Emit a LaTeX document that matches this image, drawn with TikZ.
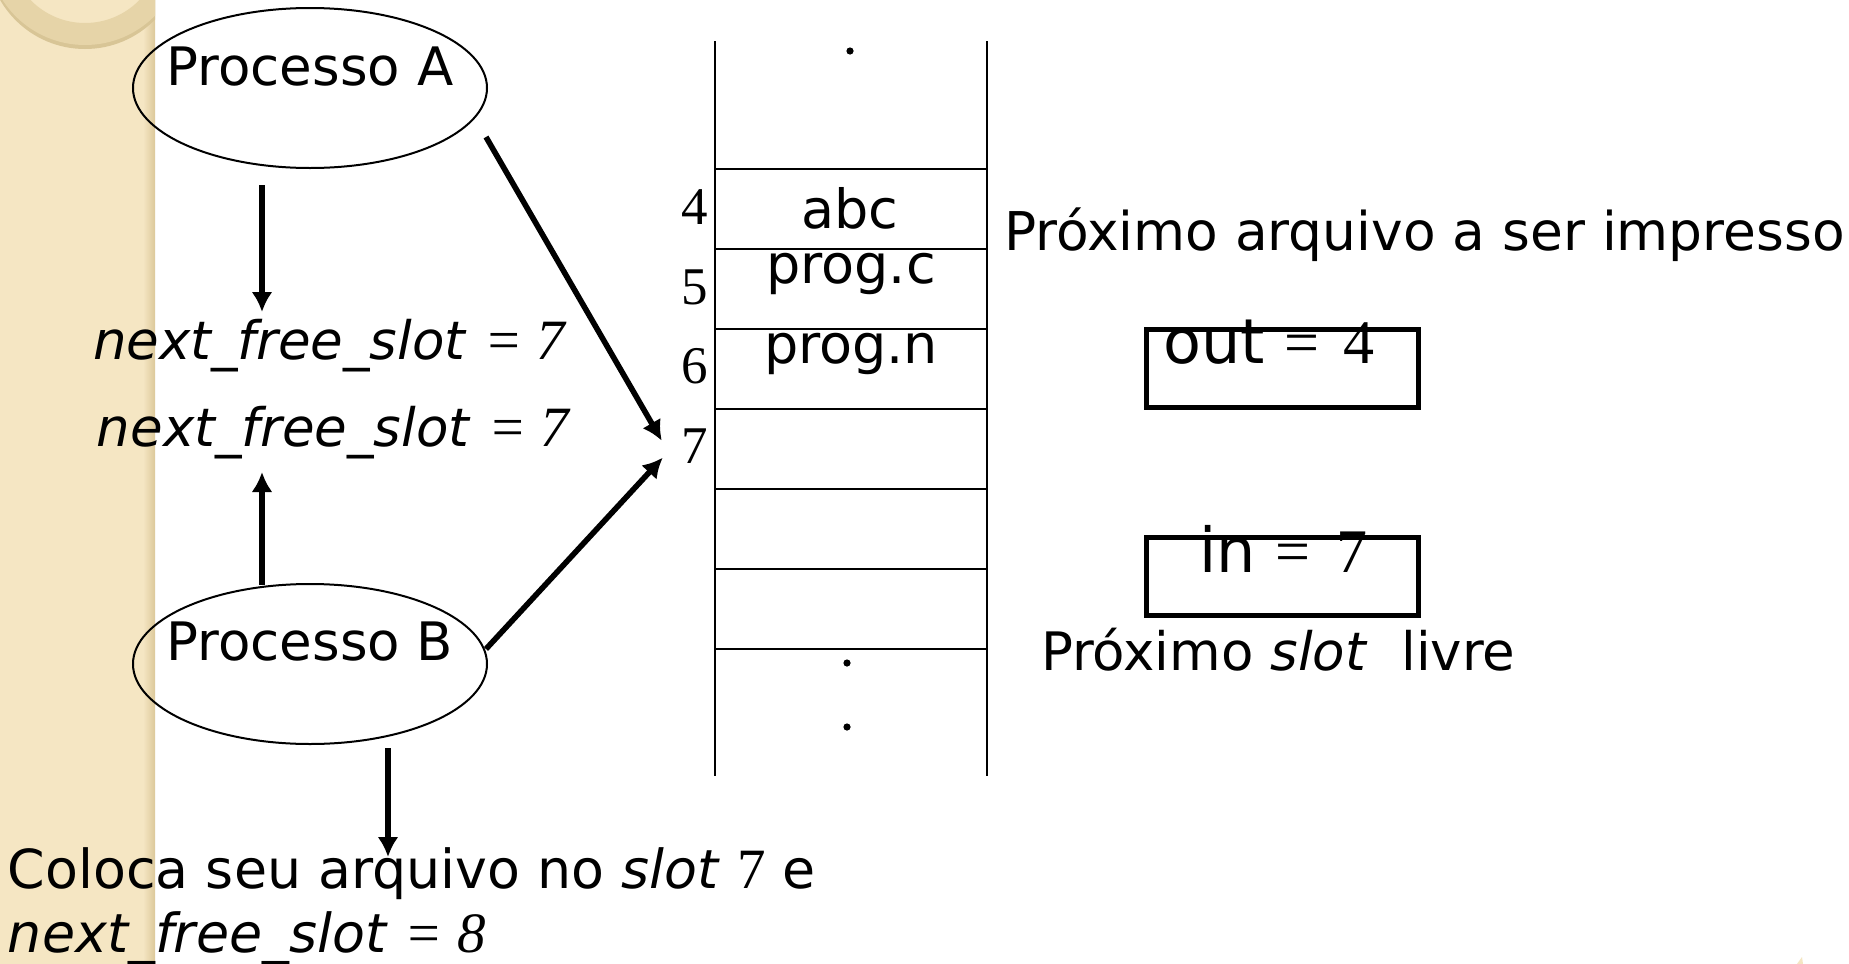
\documentclass[tikz,border=0pt]{standalone}
\usepackage{fontspec}
\setmainfont{DejaVu Sans}
\newfontfamily\tnr{Liberation Serif}
\usetikzlibrary{arrows.meta,shapes.geometric,calc}
\definecolor{stripe}{HTML}{F5E6C3}
\definecolor{stripedark}{HTML}{DCC89A}
\definecolor{ringc}{HTML}{E6D4A8}
\definecolor{ringsh}{HTML}{D8C596}
\begin{document}
\begin{tikzpicture}[x=0.5pt,y=-0.5pt,
  txt/.style={inner sep=0pt,outer sep=0pt,font=\fontsize{26.5}{32}\selectfont},
  celltxt/.style={inner sep=0pt,outer sep=0pt,anchor=base,font=\fontsize{27}{32}\selectfont},
  num/.style={inner sep=0pt,outer sep=0pt,anchor=base,font=\tnr\fontsize{26.5}{32}\selectfont},
  proc/.style={ellipse,draw,line width=1pt,minimum width=177pt,minimum height=80pt,inner sep=0pt,outer sep=0pt},
  arr/.style={line width=2.8pt,-{Latex[length=10pt,width=10.5pt]}},
  cellline/.style={line width=1pt},
  valbox/.style={draw,line width=2.5pt,minimum width=136pt,minimum height=39pt,inner sep=0pt,outer sep=0pt}
]
\useasboundingbox (0,0) rectangle (1849,964);
\fill[white] (0,0) rectangle (1849,964);
% left decorative stripe
\fill[stripe] (0,0) rectangle (155,964);
\shade[left color=stripe,right color=stripedark] (143,0) rectangle (155,964);
\begin{scope}
  \clip (0,0) rectangle (155,964);
  \fill[ringsh,even odd rule] (85,-49) circle (49pt) (85,-49) circle (38pt);
  \fill[ringc,even odd rule] (85,-53) circle (49pt) (85,-53) circle (38pt);
\end{scope}
\fill[stripe] (1797,964) -- (1802,957) -- (1803,964) -- cycle;

% processes
\node[proc] (A) at (310,88) {};
\node[txt,anchor=base] (ptA) at (310,85) {Processo A};
\node[proc] (B) at (310,664) {};
\node[txt,anchor=base] (ptB) at (310,660) {Processo B};

% next_free_slot texts
\node[txt,anchor=base west] (nfs1) at (93,359) {\textit{next\_free\_slot} {\tnr\itshape\fontsize{28.5}{32}\selectfont = 7}};
\node[txt,anchor=base west] (nfs2) at (97,446) {\textit{next\_free\_slot} {\tnr\itshape\fontsize{28.5}{32}\selectfont = 7}};
\node[txt,anchor=base west,font=\fontsize{26.9}{32}\selectfont] (put1) at (8,888) {Coloca seu arquivo no \textit{slot} {\tnr\fontsize{28.5}{32}\selectfont 7} e};
\node[txt,anchor=base west,font=\fontsize{26.9}{32}\selectfont] (put2) at (8,952) {\textit{next\_free\_slot} {\tnr\itshape\fontsize{28.5}{32}\selectfont = 8}};

% stack
\draw[cellline] (715,41) -- (715,776);
\draw[cellline] (987,41) -- (987,776);
\foreach \yy in {169,249,329,409,489,569,649}
  \draw[cellline] (715,\yy) -- (987,\yy);
\fill (850,51) circle (1.8pt);
\fill (847,663) circle (1.8pt);
\fill (847,727) circle (1.8pt);
\node[celltxt] (c4) at (850,228) {abc};
\node[celltxt] (c5) at (851,283) {prog.c};
\node[celltxt] (c6) at (851,363) {prog.n};
\node[num] (n4) at (695,224) {4};
\node[num] (n5) at (695,304) {5};
\node[num] (n6) at (695,383) {6};
\node[num] (n7) at (695,463) {7};

% right side
\node[txt,anchor=base west,font=\fontsize{26.7}{32}\selectfont] (prox) at (1004,250) {Próximo arquivo a ser impresso};
\node[valbox] (outbox) at (1282.5,368.5) {};
\node[valbox] (inbox) at (1282.5,576) {};
\node[inner sep=0pt,anchor=base west] (outt) at (1163,363) {\fontsize{31}{36}\selectfont out {\tnr\fontsize{31}{36}\selectfont =\hspace{12pt}4}};
\node[inner sep=0pt,anchor=base west] (int) at (1199,572) {\fontsize{31}{36}\selectfont in {\tnr\fontsize{31}{36}\selectfont =\hspace{13pt}7}};
\node[txt,anchor=base west] (slotl) at (1041,670) {Próximo \textit{slot}\ \ livre};

% arrows
\coordinate (nfs1top) at (262,312);
\coordinate (nfs2bot) at (262,472);
\coordinate (puttop) at (388,857);
\draw[arr] ($(A.south)+(-48,17)$) -- (nfs1top);
\draw[arr] ($(B.north)+(-48,1)$) -- (nfs2bot);
\draw[arr] ($(B.south)+(78,4)$) -- (puttop);
\draw[arr] ($(A.center)+(176,49)$) -- ($(n7.west)+(-20,-5)$);
\draw[arr] ($(B.center)+(176,-15)$) -- ($(n7.west)+(-19,12)$);
\end{tikzpicture}
\end{document}
